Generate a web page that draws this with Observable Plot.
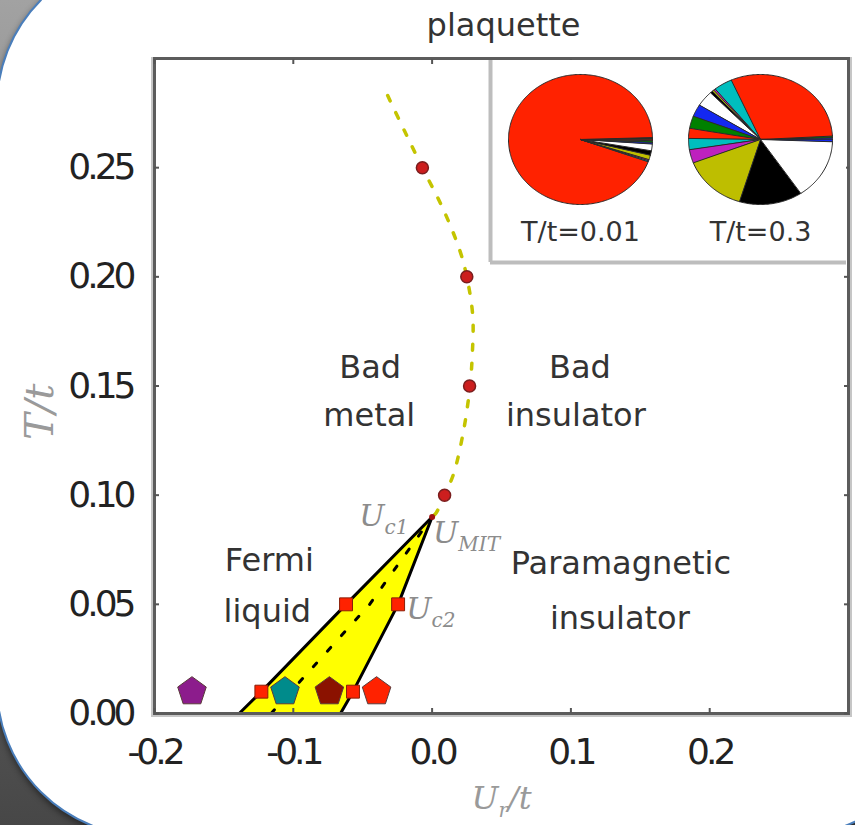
<!DOCTYPE html>
<html>
<head>
<meta charset="utf-8">
<script src="https://cdn.jsdelivr.net/npm/d3@7"></script>
<script src="https://cdn.jsdelivr.net/npm/@observablehq/plot@0.6"></script>
<style>
  html, body { margin: 0; padding: 0; }
  body {
    width: 855px; height: 825px; overflow: hidden; position: relative;
    background: linear-gradient(180deg, #a2a2a2 0%, #8a8a8a 30%, #5a5a5a 75%, #474747 100%);
  }
  #card {
    position: absolute; left: -4px; top: -45px; width: 946px; height: 882px;
    background: #fff; border: 2px solid #4a7ebb; border-radius: 151px;
    box-sizing: border-box; box-shadow: 0 3px 6px rgba(0,0,0,0.45);
  }
  #main { position: absolute; left: 0; top: 0; }
  #inset { position: absolute; left: 488px; top: 60px; width: 358px; height: 204px; background: #fff; }
</style>
</head>
<body>
<div id="card"></div>
<div id="main"></div>
<div id="inset"></div>
<script>
// ---- axis ticks ----
const xTicks = [-0.2, -0.1, 0.0, 0.1, 0.2];
const yTicks = [0.00, 0.05, 0.10, 0.15, 0.20, 0.25];
const xEdgeTicks = [-0.2, -0.1, 0.0, 0.1, 0.2];

// ---- crossover (Widom) line: red circles and dashed guide ----
const widomU = [-0.007, 0.025, 0.027, 0.009];
const widomT = [0.25, 0.20, 0.15, 0.10];
const crossoverU = [-0.032, -0.020, -0.007, 0.008, 0.020, 0.025, 0.0293, 0.0290, 0.0273, 0.0228, 0.0156, 0.009, 0.003, 0.0];
const crossoverT = [0.283, 0.267, 0.250, 0.231, 0.212, 0.200, 0.182, 0.165, 0.150, 0.130, 0.110, 0.100, 0.092, 0.090];

// ---- coexistence region between U_c1 and U_c2 ----
const coexT = [0.00, 0.01, 0.05, 0.09];
const uc1 = [-0.139, -0.123, -0.062, 0.0];
const uc2 = [-0.066, -0.057, -0.0245, 0.0];
// first-order transition line U_MIT inside the region
const mitT = [0.00, 0.05, 0.09];
const mitU = [-0.116, -0.045, 0.0];
// computed spinodal points (red squares)
const squareT = [0.01, 0.05, 0.01, 0.05];
const squareU = [-0.123, -0.062, -0.057, -0.0245];
// critical endpoint
const endU = [0.0];
const endT = [0.09];

// ---- low-temperature runs (pentagons) ----
const pentU = [-0.173, -0.106, -0.074, -0.040];
const pentT = [0.01, 0.01, 0.01, 0.01];
const pentColors = ["#8c1c8c", "#008b8b", "#8b1200", "#ff2200"];

// ---- plaquette state histograms (percent) ----
const pieNames = ["T/t=0.01", "T/t=0.3"];
const pieLow = [0.22, 0.25, 93.97, 0.28, 0.28, 1.11, 1.11, 1.67, 0.42, 0.42, 0.28];
const pieHigh = [0.42, 0.42, 30.83, 4.17, 0.42, 0.42, 0.56, 3.89, 3.06, 3.06, 2.5, 2.78, 3.33, 14.44, 14.17, 15.0, 0.56];
const sliceColors = ["#1428f0", "#008000", "#ff2200", "#00bebe", "#be20be", "#bebe00", "#000000", "#ffffff"];

// ---- region names ----
const regionText = ["Bad", "metal", "Bad", "insulator", "Fermi", "liquid", "Paramagnetic", "insulator"];
const regionU = [-0.0446, -0.0453, 0.1065, 0.1036, -0.1173, -0.1187, 0.136, 0.1353];
const regionT = [0.1536, 0.1316, 0.1536, 0.1316, 0.0654, 0.042, 0.064, 0.0388];

// ---- symbol annotations ----
const mathText = ["U_{c1}", "U_{MIT}", "U_{c2}"];
const mathU = [-0.0525, 0.0007, -0.0187];
const mathT = [0.0859, 0.0782, 0.0434];

// tables built from the arrays
const widom = widomU.map((u, i) => ({u, t: widomT[i]}));
const crossover = crossoverU.map((u, i) => ({u, t: crossoverT[i]}));
const coex = coexT.map((t, i) => ({t, a: uc1[i], b: uc2[i]}));
const mit = mitU.map((u, i) => ({u, t: mitT[i]}));
const squares = squareU.map((u, i) => ({u, t: squareT[i]}));
const ends = endU.map((u, i) => ({u, t: endT[i]}));
const pents = pentU.map((u, i) => ({u, t: pentT[i], c: pentColors[i]}));
const regions = regionText.map((s, i) => ({s, u: regionU[i], t: regionT[i]}));
const maths = mathText.map((s, i) => ({s, u: mathU[i], t: mathT[i]}));

// pentagon symbol for d3/Plot dots
const pentagon = {
  draw(context, size) {
    const r = Math.sqrt(size / Math.PI);
    for (let i = 0; i < 5; ++i) {
      const a = -Math.PI / 2 + i * 2 * Math.PI / 5;
      const px = r * Math.cos(a), py = r * Math.sin(a);
      if (i) context.lineTo(px, py); else context.moveTo(px, py);
    }
    context.closePath();
  }
};

const serif = "'DejaVu Serif', serif";
const sans = "'DejaVu Sans', sans-serif";

const main = Plot.plot({
  width: 855, height: 825,
  marginLeft: 154, marginRight: 7, marginTop: 58, marginBottom: 112,
  style: {background: "transparent", fontFamily: sans, overflow: "visible"},
  x: {domain: [-0.2, 0.3]},
  y: {domain: [0, 0.3]},
  marks: [
    Plot.frame({stroke: "#c6c6c6", strokeWidth: 3, insetLeft: -2, insetRight: -2, insetBottom: -2}),
    // coexistence wedge
    Plot.areaX(coex, {y: "t", x1: "a", x2: "b", fill: "#ffff00", curve: "linear"}),
    Plot.line(mit, {x: "u", y: "t", stroke: "#000", strokeWidth: 3, strokeDasharray: "5,16"}),
    Plot.line(coex, {x: "a", y: "t", stroke: "#000", strokeWidth: 3}),
    Plot.line(coex, {x: "b", y: "t", stroke: "#000", strokeWidth: 3}),
    Plot.frame({stroke: "#5c5c5c", strokeWidth: 3}),
    Plot.dot(squares, {x: "u", y: "t", symbol: "square", r: 7.3, fill: "#ff2200", stroke: "#8a1e08", strokeWidth: 1}),
    Plot.dot(pents, {x: "u", y: "t", symbol: pentagon, r: 15, fill: "c", stroke: "#5a3a3a", strokeWidth: 1}),
    // crossover line
    Plot.line(crossover, {x: "u", y: "t", stroke: "#c4c400", strokeWidth: 3.5, strokeDasharray: "6,13", curve: "catmull-rom"}),
    Plot.dot(widom, {x: "u", y: "t", r: 6, fill: "#cc1e1e", stroke: "#7a1e1e", strokeWidth: 1.5}),
    Plot.dot(ends, {x: "u", y: "t", r: 3, fill: "#a01010"}),
    // axes with inward ticks
    Plot.axisX(xTicks, {anchor: "bottom", tickSize: -5, tickPadding: 30, stroke: "#555", strokeWidth: 2, fontSize: 36, fill: "#222", tickFormat: d => d.toFixed(1), label: null}),
    Plot.axisX(xEdgeTicks, {anchor: "top", tickSize: -5, stroke: "#555", strokeWidth: 2, tickFormat: () => "", label: null}),
    Plot.axisY(yTicks, {anchor: "left", tickSize: -5, tickPadding: 27, stroke: "#555", strokeWidth: 2, fontSize: 36, fill: "#222", tickFormat: d => d.toFixed(2), label: null}),
    Plot.axisY(yTicks, {anchor: "right", tickSize: -5, stroke: "#555", strokeWidth: 2, tickFormat: () => "", label: null}),
    // labels
    Plot.text(["plaquette"], {frameAnchor: "top", dx: 2, dy: -23, lineAnchor: "bottom", fontSize: 32, fill: "#333"}),
    Plot.text(["T/t"], {frameAnchor: "left", rotate: -90, dx: -114, dy: 54, fontSize: 40, fontFamily: serif, fontStyle: "italic", fill: "#9a9a9a"}),
    Plot.text(["U_{r}/t"], {frameAnchor: "bottom", dy: 95, lineAnchor: "bottom", fontSize: 32, fontFamily: serif, fontStyle: "italic", fill: "#9a9a9a"}),
    Plot.text(regions, {x: "u", y: "t", text: "s", lineAnchor: "bottom", fontSize: 32, fill: "#333"}),
    Plot.text(maths, {x: "u", y: "t", text: "s", textAnchor: "start", lineAnchor: "bottom", fontSize: 30, fontFamily: serif, fontStyle: "italic", fill: "#8c8c8c"})
  ]
});

// subscripts written as _{...} in the italic (math) labels
d3.select(main).selectAll('g[font-style="italic"] text').each(function () {
  const parts = this.textContent.split(/_\{([^}]*)\}/);
  if (parts.length < 2) return;
  this.textContent = "";
  parts.forEach((p, i) => {
    if (!p) return;
    const ts = document.createElementNS("http://www.w3.org/2000/svg", "tspan");
    ts.textContent = p;
    if (i % 2) { ts.setAttribute("font-size", "20"); ts.setAttribute("dy", "8"); }
    else if (i > 0) ts.setAttribute("dy", "-8");
    this.appendChild(ts);
  });
});
d3.select(main).selectAll('g[aria-label="x-axis tick label"] text, g[aria-label="y-axis tick label"] text')
  .attr("letter-spacing", "-4px");
document.getElementById("main").appendChild(main);

// ---- inset pies ----
function wedges(values, cx, key) {
  const total = d3.sum(values);
  const pts = [];
  let a0 = 0;
  values.forEach((v, i) => {
    const a1 = a0 + v / total * 2 * Math.PI;
    const id = key + i, color = sliceColors[i % sliceColors.length];
    pts.push({id, color, x: cx, y: 0});
    const n = Math.max(2, Math.ceil((a1 - a0) / (Math.PI / 180)));
    for (let k = 0; k <= n; ++k) {
      const a = a0 + (a1 - a0) * k / n;
      pts.push({id, color, x: cx + Math.cos(a), y: Math.sin(a)});
    }
    a0 = a1;
  });
  return pts;
}
const pieCenters = [0, 2.5];
const slices = [...wedges(pieLow, pieCenters[0], "lo"), ...wedges(pieHigh, pieCenters[1], "hi")];
const pieLabels = pieNames.map((s, i) => ({s, x: pieCenters[i]}));

const inset = Plot.plot({
  width: 358, height: 204,
  marginLeft: 2, marginBottom: 2, marginTop: 0, marginRight: 0,
  style: {background: "transparent", fontFamily: sans, overflow: "visible"},
  x: {domain: [-1.25, 3.694], axis: null},
  y: {domain: [-1.892, 1.215], axis: null},
  color: {type: "identity"},
  marks: [
    Plot.line(slices, {x: "x", y: "y", z: "id", fill: "color", stroke: "#2a2a2a", strokeWidth: 1, curve: "linear-closed"}),
    Plot.text(pieLabels, {x: "x", y: -1.554, text: "s", lineAnchor: "bottom", fontSize: 27, fill: "#333"}),
    Plot.ruleX([-1.25], {stroke: "#bdbdbd", strokeWidth: 4}),
    Plot.ruleY([-1.892], {stroke: "#bdbdbd", strokeWidth: 4})
  ]
});
document.getElementById("inset").appendChild(inset);
</script>
</body>
</html>
